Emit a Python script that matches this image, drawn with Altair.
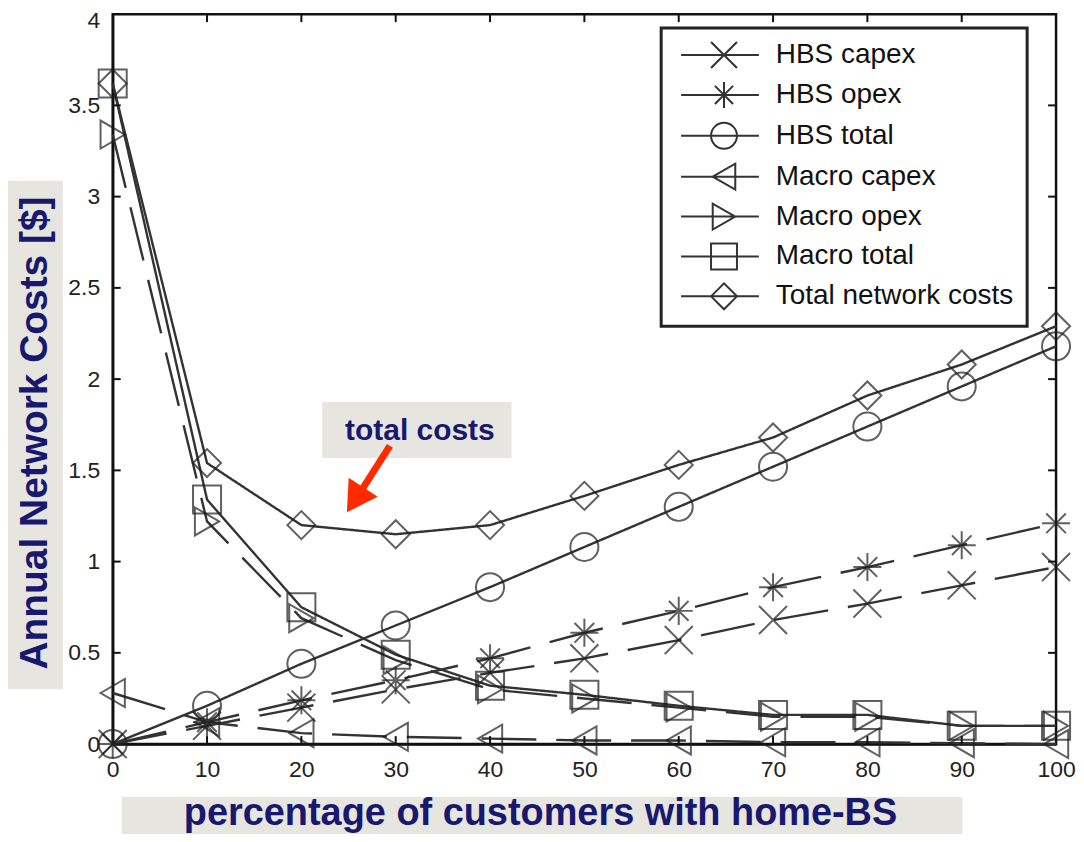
import altair as alt
import pandas as pd

# ---------------- data ----------------
x_vals = [0, 10, 20, 30, 40, 50, 60, 70, 80, 90, 100]
hbs_capex = [0.0, 0.10, 0.20, 0.30, 0.39, 0.47, 0.57, 0.68, 0.77, 0.87, 0.97]
hbs_opex = [0.0, 0.12, 0.24, 0.35, 0.47, 0.61, 0.73, 0.86, 0.97, 1.09, 1.21]
hbs_total = [0.0, 0.21, 0.44, 0.65, 0.86, 1.08, 1.30, 1.52, 1.74, 1.96, 2.18]
macro_capex = [0.28, 0.12, 0.06, 0.04, 0.03, 0.02, 0.02, 0.01, 0.01, 0.005, 0.0]
macro_opex = [3.34, 1.22, 0.69, 0.46, 0.30, 0.25, 0.20, 0.15, 0.15, 0.10, 0.10]
macro_total = [3.62, 1.34, 0.75, 0.49, 0.32, 0.27, 0.21, 0.16, 0.16, 0.10, 0.10]
total_costs = [3.62, 1.54, 1.20, 1.15, 1.20, 1.36, 1.53, 1.68, 1.91, 2.08, 2.29]

series_names = ["HBS capex", "HBS opex", "HBS total", "Macro capex",
                "Macro opex", "Macro total", "Total network costs"]
series_values = [hbs_capex, hbs_opex, hbs_total, macro_capex,
                 macro_opex, macro_total, total_costs]
series_dash = ["dashed", "dashed", "solid", "dashed", "dashed", "solid", "solid"]

x_ticks = [0, 10, 20, 30, 40, 50, 60, 70, 80, 90, 100]
y_ticks = [0, 0.5, 1, 1.5, 2, 2.5, 3, 3.5, 4]

x_title = "percentage of customers with home-BS"
y_title = "Annual Network Costs [$]"
note_text = "total costs"

# ---------------- tables ----------------
rows = []
for name, vals, dash in zip(series_names, series_values, series_dash):
    for xv, yv in zip(x_vals, vals):
        rows.append({"series": name, "x": xv, "y": yv, "dash": dash})
df = pd.DataFrame(rows)
xt_df = pd.DataFrame({"x": x_ticks[1:-1]})
yt_df = pd.DataFrame({"y": y_ticks[1:-1]})
one = pd.DataFrame({"a": [0]})

W, H = 946, 732
FONT = "Liberation Sans"
NAVY = "#18186e"
BOXGRAY = "#e6e5e0"

xs = alt.Scale(domain=[0, 100], nice=False)
ys = alt.Scale(domain=[0, 4], nice=False)
x_axis = alt.Axis(values=x_ticks, title=None, grid=False, tickSize=0,
                  labelFontSize=23, labelPadding=15, labelFont=FONT,
                  labelColor="#222", domainColor="#111", domainWidth=2.5,
                  labelFlush=False)
y_axis = alt.Axis(values=y_ticks, title=None, grid=False, tickSize=0,
                  format=".1~f", labelFontSize=23, labelPadding=13,
                  labelFont=FONT, labelColor="#222", domainColor="#111",
                  domainWidth=2.5, labelFlush=False,
                  labelOffset=alt.ExprRef(expr="datum.value == 4 ? 6 : 0"))
X = alt.X("x:Q", scale=xs, axis=x_axis)
Y = alt.Y("y:Q", scale=ys, axis=y_axis)

# marker shapes in the plot
plot_shapes = [
    "M-1,-1L1,1M-1,1L1,-1",
    "M-1,0L1,0M0,-1L0,1M-0.7,-0.7L0.7,0.7M-0.7,0.7L0.7,-0.7",
    "circle",
    "triangle-left",
    "triangle-right",
    "square",
    "diamond",
]
# legend symbols: a line with the marker on it (marker centred 2.77 units right)
LINE = "M-0.54,0L5.46,0"
legend_shapes = [
    LINE + "M1.77,-1L3.77,1M1.77,1L3.77,-1",
    LINE + "M2.77,-1L2.77,1M2.07,-0.7L3.47,0.7M2.07,0.7L3.47,-0.7",
    LINE + "M3.77,0A1,1,0,1,1,1.77,0A1,1,0,1,1,3.77,0Z",
    LINE + "M1.9,0L3.64,-1L3.64,1Z",
    LINE + "M3.64,0L1.9,-1L1.9,1Z",
    LINE + "M1.77,-1L3.77,-1L3.77,1L1.77,1Z",
    LINE + "M1.77,0L2.77,-1L3.77,0L2.77,1Z",
]

base = alt.Chart(df)

lines = base.mark_line(color="#333333", strokeWidth=2.4).encode(
    x=X, y=Y,
    detail="series:N",
    strokeDash=alt.StrokeDash("dash:N",
                              scale=alt.Scale(domain=["solid", "dashed"],
                                              range=[[1, 0], [55, 20]]),
                              legend=None),
)

points = base.mark_point(filled=False, color="#1e1e1e", size=790, strokeWidth=2).encode(
    x=X, y=Y,
    shape=alt.Shape("series:N", scale=alt.Scale(domain=series_names, range=plot_shapes),
                    legend=None),
)

legend_layer = base.mark_point(filled=False, color="#333", size=676, strokeWidth=2).encode(
    x=X, y=Y,
    shape=alt.Shape(
        "series:N",
        scale=alt.Scale(domain=series_names, range=legend_shapes),
        legend=alt.Legend(
            title=None, orient="none", legendX=550, legendY=14,
            padding=13, rowPadding=6, labelFontSize=28, labelFont=FONT,
            labelColor="#111", labelLimit=400, labelOffset=74,
            symbolSize=676, symbolStrokeWidth=2, symbolStrokeColor="#333",
            symbolOpacity=1, strokeColor="#222", fillColor="white",
        ),
    ),
).transform_filter("false")

# inward ticks on all four sides
tick_style = dict(color="#111", strokeWidth=2)
bottom_ticks = alt.Chart(xt_df).mark_rule(**tick_style).encode(
    x=X, y=alt.value(H), y2=alt.value(H - 8))
top_ticks = alt.Chart(xt_df).mark_rule(**tick_style).encode(
    x=X, y=alt.value(0), y2=alt.value(8))
left_ticks = alt.Chart(yt_df).mark_rule(**tick_style).encode(
    y=Y, x=alt.value(0), x2=alt.value(8))
right_ticks = alt.Chart(yt_df).mark_rule(**tick_style).encode(
    y=Y, x=alt.value(W), x2=alt.value(W - 8))

# title boxes and titles
ybox = alt.Chart(one).mark_rect(color=BOXGRAY).encode(
    x=alt.value(-113), x2=alt.value(-50), y=alt.value(167), y2=alt.value(677))
ytext = alt.Chart(one).mark_text(
    text=y_title, angle=270, font=FONT, fontWeight="bold", fontSize=39,
    color=NAVY, align="center", baseline="alphabetic").encode(
    x=alt.value(-66), y=alt.value(420))
xbox = alt.Chart(one).mark_rect(color=BOXGRAY).encode(
    x=alt.value(9), x2=alt.value(852), y=alt.value(785), y2=alt.value(830))
xtext = alt.Chart(one).mark_text(
    text=x_title, font=FONT, fontWeight="bold", fontSize=38,
    color=NAVY, align="center", baseline="alphabetic").encode(
    x=alt.value(429), y=alt.value(813))

# "total costs" note with red arrow
nbox = alt.Chart(one).mark_rect(color=BOXGRAY).encode(
    x=alt.value(210), x2=alt.value(400), y=alt.value(389), y2=alt.value(445))
ntext = alt.Chart(one).mark_text(
    text=note_text, font=FONT, fontWeight="bold", fontSize=30,
    color=NAVY, align="center", baseline="middle").encode(
    x=alt.value(308), y=alt.value(418))
shaft = alt.Chart(one).mark_rule(color="#ff2a00", strokeWidth=7).encode(
    x=alt.value(278), y=alt.value(433), x2=alt.value(244), y2=alt.value(486))
head = alt.Chart(one).mark_point(shape="triangle-up", filled=True, color="#ff2a00",
                                 size=1200, angle=213, opacity=1).encode(
    x=alt.value(243), y=alt.value(487))

chart = alt.layer(
    ybox, ytext, xbox, xtext,
    lines, points, legend_layer,
    bottom_ticks, top_ticks, left_ticks, right_ticks,
    nbox, ntext, shaft, head,
).resolve_scale(shape="independent").properties(
    width=W, height=H,
    autosize=alt.AutoSizeParams(type="none"),
    padding={"left": 105, "top": 5, "right": 20, "bottom": 89},
).configure(
    font=FONT, background="white"
).configure_view(
    stroke="#111", strokeWidth=2.5
).configure_legend(
    strokeWidth=3, cornerRadius=0
)

chart.save("out.html", embed_options={"renderer": "svg", "actions": False})
